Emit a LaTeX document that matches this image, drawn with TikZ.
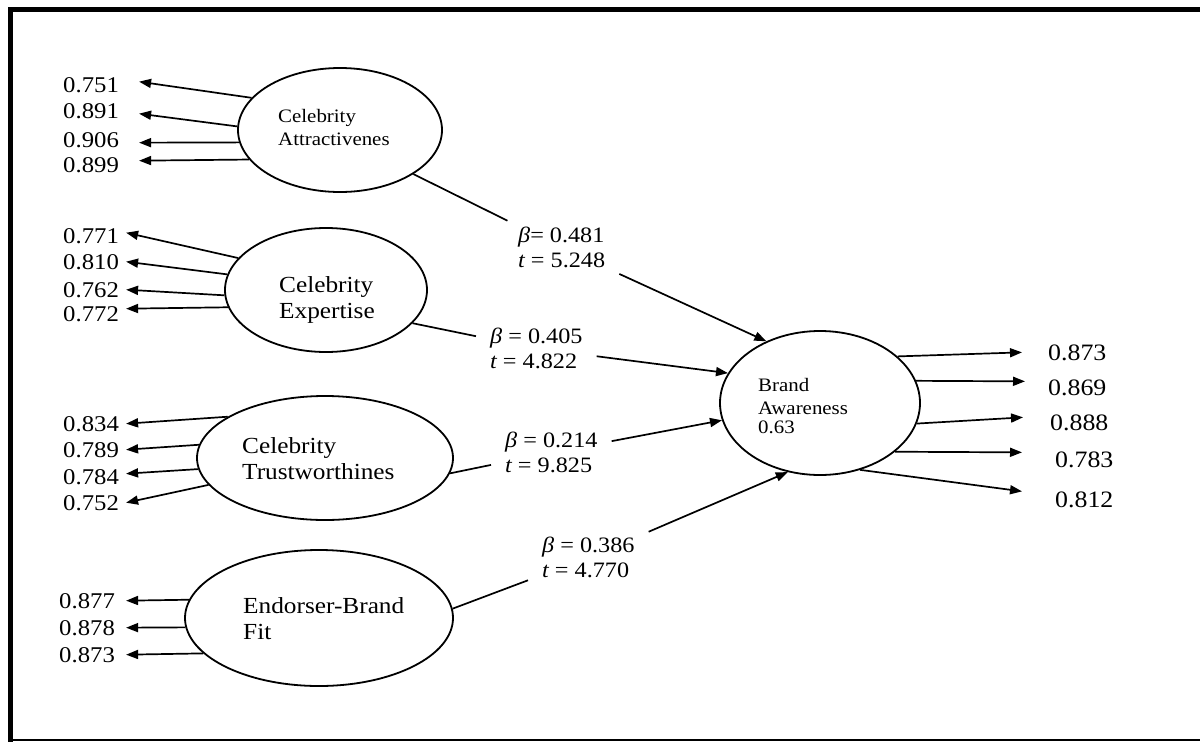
\documentclass[tikz,border=0pt]{standalone}
\usepackage{fontspec}
\setmainfont{Liberation Serif}[FakeStretch=1.1]
\usetikzlibrary{shapes.geometric,arrows.meta}
\begin{document}
\begin{tikzpicture}[x=1pt,y=-1pt,
  lat/.style={draw, ellipse, line width=1.8pt, inner sep=0pt},
  ltxt/.style={inner sep=0pt, anchor=north west, align=left},
  bigtxt/.style={ltxt, font=\fontsize{23}{26}\selectfont},
  smalltxt/.style={ltxt, font=\fontsize{19}{23.5}\selectfont},
  num/.style={inner sep=0pt, anchor=base west, font=\fontsize{22.5}{26}\selectfont},
  rnum/.style={inner sep=0pt, anchor=base west, font=\fontsize{23.5}{28}\selectfont},
  coef/.style={inner xsep=14pt, inner ysep=6pt, anchor=north west, align=left, font=\fontsize{22}{25.5}\selectfont},
  arr/.style={line width=1.7pt, -{Triangle[length=12pt,width=9pt]}},
  ln/.style={line width=1.7pt}]
\useasboundingbox (0,0) rectangle (1200,742);
% frame
\draw[line width=5pt] (1200,9) -- (10,9) -- (10,742);
\draw[line width=1.5pt] (10,740) -- (1200,740);

% latent variables
\node[lat, minimum width=204pt, minimum height=124pt] (CA) at (340,130) {};
\node[lat, minimum width=202pt, minimum height=124pt] (CE) at (326,290) {};
\node[lat, minimum width=256pt, minimum height=124pt] (CT) at (325,458) {};
\node[lat, minimum width=268pt, minimum height=136pt] (EB) at (319,618) {};
\node[lat, minimum width=200pt, minimum height=144pt] (BA) at (820,403) {};

\node[smalltxt] (CAt) at (278,108.7) {Celebrity\\Attractivenes};
\node[bigtxt] (CEt) at (279,276) {Celebrity\\Expertise};
\node[bigtxt] (CTt) at (242,437) {Celebrity\\Trustworthines};
\node[bigtxt] (EBt) at (243,597) {Endorser-Brand\\Fit};
\node[smalltxt] (BAt) at (758,378) {Brand\\Awareness\\[-5pt]0.63};

% indicator loadings, left
\node[num] (a1) at (63,92) {0.751};
\node[num] (a2) at (63,118) {0.891};
\node[num] (a3) at (63,147) {0.906};
\node[num] (a4) at (63,172) {0.899};
\draw[arr] (CA.160) -- ([xshift=20pt,yshift=3pt]a1.east);
\draw[arr] (CA.178) -- ([xshift=20pt,yshift=-3pt]a2.east);
\draw[arr] (CA.187) -- ([xshift=20pt,yshift=-3pt]a3.east);
\draw[arr] (CA.198) -- ([xshift=20pt,yshift=4pt]a4.east);

\node[num] (e1) at (63,243) {0.771};
\node[num] (e2) at (63,269) {0.810};
\node[num] (e3) at (63,297) {0.762};
\node[num] (e4) at (63,321) {0.772};
\draw[arr] (CE.160) -- ([xshift=7pt,yshift=3pt]e1.east);
\draw[arr] (CE.171) -- ([xshift=7pt]e2.east);
\draw[arr] (CE.183) -- ([xshift=7pt]e3.east);
\draw[arr] (CE.190) -- ([xshift=7pt,yshift=5pt]e4.east);

\node[num] (t1) at (63,431) {0.834};
\node[num] (t2) at (63,457) {0.789};
\node[num] (t3) at (63,484) {0.784};
\node[num] (t4) at (63,510) {0.752};
\draw[arr] (CT.157) -- ([xshift=7pt]t1.east);
\draw[arr] (CT.174) -- ([xshift=7pt]t2.east);
\draw[arr] (CT.185) -- ([xshift=7pt,yshift=3pt]t3.east);
\draw[arr] (CT.193.5) -- ([xshift=7pt]t4.east);

\node[num] (f1) at (59,608) {0.877};
\node[num] (f2) at (59,635) {0.878};
\node[num] (f3) at (59,662) {0.873};
\draw[arr] (EB.172) -- ([xshift=11pt]f1.east);
\draw[arr] (EB.184) -- ([xshift=11pt]f2.east);
\draw[arr] (EB.197) -- ([xshift=11pt]f3.east);

% indicator loadings, right
\node[rnum] (r1) at (1048,360) {0.873};
\node[rnum] (r2) at (1048,395) {0.869};
\node[rnum] (r3) at (1050,430) {0.888};
\node[rnum] (r4) at (1055,467) {0.783};
\node[rnum] (r5) at (1055,507) {0.812};
\draw[arr] (BA.31.5) -- ([xshift=-26pt]r1.west);
\draw[arr] (BA.13) -- ([xshift=-23pt,yshift=6pt]r2.west);
\draw[arr] (BA.348) -- ([xshift=-27pt,yshift=5pt]r3.west);
\draw[arr] (BA.327.7) -- ([xshift=-33pt,yshift=7pt]r4.west);
\draw[arr] (BA.301.6) -- ([xshift=-33pt,yshift=8pt]r5.west);

% structural paths
\node[coef] (b1) at (504,220.7) {{\itshape β}= 0.481\\{\itshape t} = 5.248};
\node[coef] (b2) at (476,321.7) {{\itshape β} = 0.405\\{\itshape t} = 4.822};
\node[coef] (b3) at (491,425.7) {{\itshape β} = 0.214\\{\itshape t} = 9.825};
\node[coef] (b4) at (528,530.7) {{\itshape β} = 0.386\\{\itshape t} = 4.770};
\draw[ln] (CA.329) -- (b1);
\draw[arr] (b1) -- (BA.131);
\draw[ln] (CE.339) -- (b2);
\draw[arr] (b2) -- (BA.162);
\draw[ln] (CT.353) -- (b3);
\draw[arr] (b3) -- (BA.190);
\draw[ln] (EB.4) -- (b4);
\draw[arr] (b4) -- (BA.245);
\end{tikzpicture}
\end{document}
